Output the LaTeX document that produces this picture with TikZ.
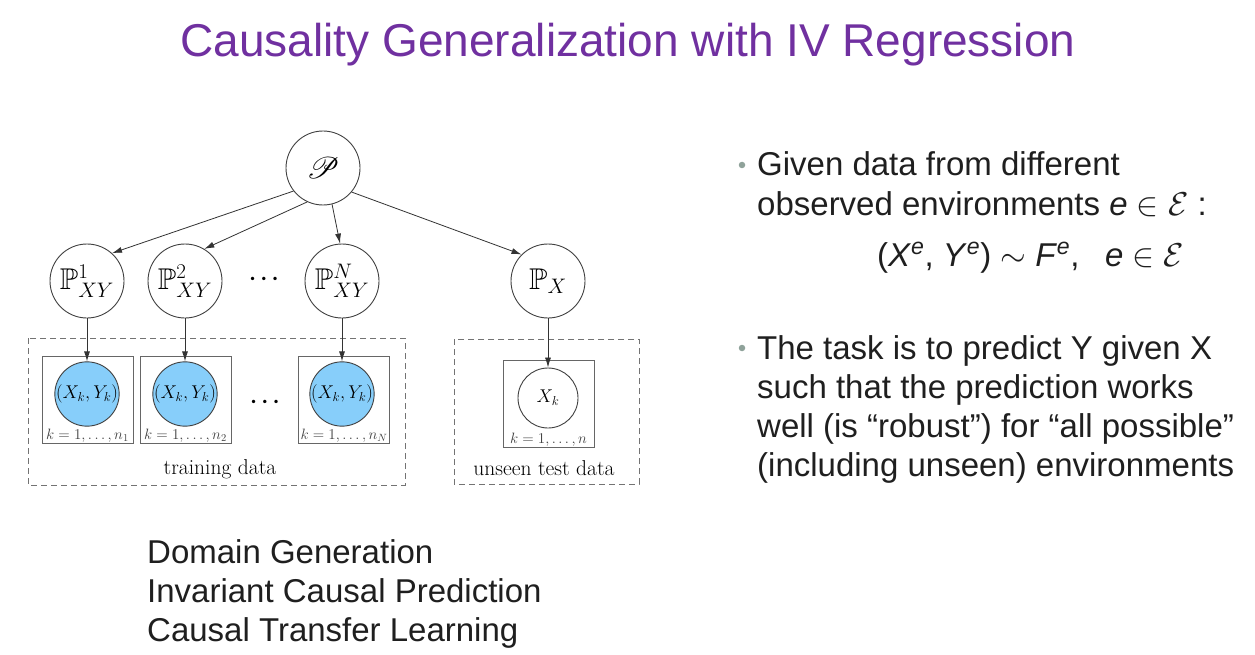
\documentclass[tikz,border=0pt]{standalone}
\usepackage{fix-cm}
\usepackage{amssymb}
\usepackage{mathrsfs}
\DeclareFontFamily{U}{msb}{}
\DeclareFontShape{U}{msb}{m}{n}{<-6> msbm5 <6-8> msbm7 <8-> msbm10}{}
\DeclareFontFamily{U}{rsfs}{\skewchar\font127 }
\DeclareFontShape{U}{rsfs}{m}{n}{<-6> rsfs5 <6-8> rsfs7 <8-> rsfs10}{}
\usepackage[no-math]{fontspec}
\newfontfamily\arial{Liberation Sans}
\usetikzlibrary{arrows.meta}
\definecolor{titlepurple}{HTML}{7030A0}
\definecolor{nodeblue}{HTML}{87CEFA}
\definecolor{bulletgray}{HTML}{8FA29A}
\begin{document}
\begin{tikzpicture}[x=1pt,y=-1pt,
  dist/.style={circle, draw=black!75, line width=0.9pt, minimum size=74pt, inner sep=0pt, font=\fontsize{30}{32}\selectfont},
  obs/.style={circle, draw=black!75, line width=0.9pt, fill=nodeblue, minimum size=63pt, inner sep=0pt, font=\fontsize{18.5}{20}\selectfont},
  tobs/.style={obs, fill=white, minimum size=60pt},
  plate/.style={draw=black!60, line width=0.9pt, minimum width=91pt, minimum height=87pt, inner sep=0pt},
  group/.style={draw=black!55, dash pattern=on 6pt off 4pt, line width=0.9pt},
  edge/.style={draw=black!80, line width=0.8pt, -{Latex[length=10pt,width=6pt]}},
  plab/.style={anchor=base, inner sep=0pt, font=\fontsize{15}{17}\selectfont, text=black!75},
  glab/.style={anchor=base, inner sep=0pt, font=\fontsize{21.5}{24}\selectfont},
  dotsn/.style={inner sep=0pt, font=\fontsize{22}{24}\selectfont\boldmath},
  slide/.style={anchor=base west, inner sep=0pt, font=\arial\fontsize{33}{39}\selectfont, text=black!88},
  bulletdot/.style={circle, fill=bulletgray, minimum size=6.5pt, inner sep=0pt},
  titletext/.style={anchor=base, inner sep=0pt, font=\arial\fontsize{46}{50}\selectfont, text=titlepurple}
]
\useasboundingbox (0,0) rectangle (1255,655);
\fill[white] (0,0) rectangle (1255,655);

% title
\node[titletext] (title) at (628,57) {Causality Generalization with IV Regression};

% distribution nodes
\node[dist] (P) at (323,168) {$\mathscr{P}$};
\node[dist] (P1) at (87,281) {$\mathbb{P}^1_{XY}$};
\node[dist] (P2) at (185,281) {$\mathbb{P}^2_{XY}$};
\node[dotsn] (dd1) at (264,279) {$\cdots$};
\node[dist] (PN) at (342,281) {$\mathbb{P}^N_{XY}$};
\node[dist] (PX) at (548,281) {$\mathbb{P}_X$};

% group boxes
\draw[group] (28,338) rectangle (405,485);
\draw[group] (454,339) rectangle (639,484);

% plates
\node[plate] (B1) at (87.5,399.5) {};
\node[plate] (B2) at (185.5,399.5) {};
\node[plate] (BN) at (344,399.5) {};
\node[plate] (BT) at (548.5,404) {};

% observed nodes
\node[obs] (c1) at (87,394) {$(X_k,Y_k)$};
\node[obs] (c2) at (185,394) {$(X_k,Y_k)$};
\node[dotsn] (dd2) at (265,402) {$\cdots$};
\node[obs] (cN) at (342,394) {$(X_k,Y_k)$};
\node[tobs] (cT) at (548,398) {$X_k$};

% plate labels
\node[plab] (l1) at (87.5,439) {$k=1,\ldots,n_1$};
\node[plab] (l2) at (185.5,439) {$k=1,\ldots,n_2$};
\node[plab] (lN) at (344,439) {$k=1,\ldots,n_N$};
\node[plab] (lT) at (548.5,443) {$k=1,\ldots,n$};

% group labels
\node[glab] (gtr) at (220,474) {training data};
\node[glab] (gte) at (544,475) {unseen test data};

% edges
\draw[edge] (P.218) -- (P1.48);
\draw[edge] (P.245) -- (P2.59);
\draw[edge] (P.284) -- (PN.93);
\draw[edge] (P.320) -- (PX.135);
\draw[edge] (P1) -- (c1);
\draw[edge] (P2) -- (c2);
\draw[edge] (PN) -- (cN);
\draw[edge] (PX) -- (cT);

% right text
\node[bulletdot] (bu1) at (742,165) {};
\node[slide] (r1) at (757,176) {Given data from different};
\node[slide] (r2) at (757,215) {observed environments \textit{e} $\in\mathcal{E}$ :};
\node[slide] (r3) at (877,266) {(\textit{X}\textsuperscript{\textit{e}}, \textit{Y}\textsuperscript{\textit{e}}) $\sim$ \textit{F}\textsuperscript{\textit{e}},\hspace{0.5em} \textit{e} $\in\mathcal{E}$};
\node[bulletdot] (bu2) at (742,348) {};
\node[slide] (s1) at (757,359) {The task is to predict Y given X};
\node[slide] (s2) at (757,398) {such that the prediction works};
\node[slide] (s3) at (757,437) {well (is “robust”) for “all possible”};
\node[slide] (s4) at (757,476) {(including unseen) environments};

% bottom text
\node[slide] (t1) at (147,563) {Domain Generation};
\node[slide] (t2) at (147,602) {Invariant Causal Prediction};
\node[slide] (t3) at (147,641) {Causal Transfer Learning};
\end{tikzpicture}
\end{document}
